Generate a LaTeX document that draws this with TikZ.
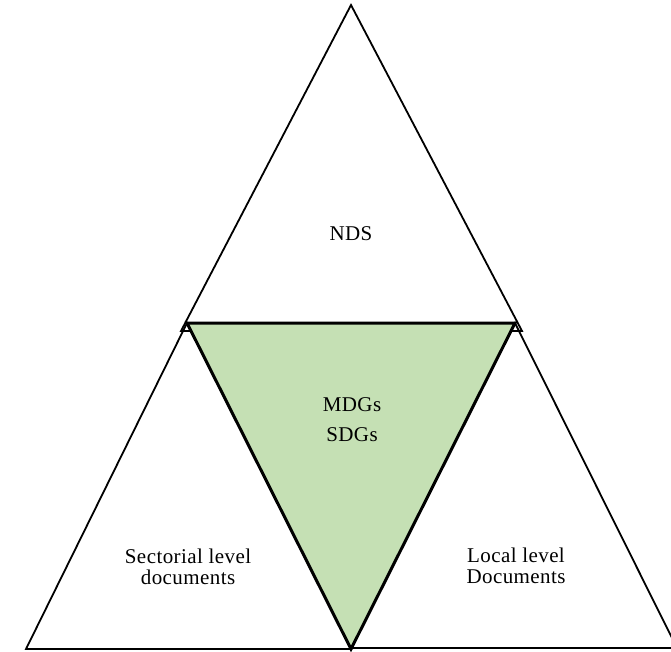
\documentclass[tikz,border=0pt]{standalone}
\usepackage{fontspec}
\setmainfont[LetterSpace=2]{Liberation Serif}
\usetikzlibrary{positioning,calc}
\definecolor{sdggreen}{RGB}{197,224,180}

\begin{document}
\begin{tikzpicture}[x=1pt,y=-1pt,line width=1.8pt,
	txt/.style={font=\fontsize{21}{21.5}\selectfont,align=center,inner sep=0pt}]
		\useasboundingbox (0,0) rectangle (671,651);
		\clip (0,0) rectangle (671,651);
		\def\yb{649}
		\def\ym{323}
		%corners
		\coordinate (T) at (351,5);
		\coordinate (L) at (187,\ym);
		\coordinate (R) at (515,\ym);
		\coordinate (B) at (351,\yb);
		
		%outer triangles
		\draw[line join=miter] (T) -- (522,331) -- (181,331) -- cycle;
		\draw[line join=miter] (L) -- (B) -- (26,\yb) -- cycle;
		\draw[line join=miter] (R) -- (677,\yb-1) -- (351,\yb-1) -- cycle;
		%inner triangle
		\draw[line width=3pt,fill=sdggreen,line join=miter] (L) -- (R) -- (B) -- cycle;
		
		\node[txt] (nds) at (351,234) {NDS};
		\node[txt] (mdg) at (352,405) {MDGs};
		\node[txt] (sdg) at (352,435) {SDGs};
		\node[txt] (sec) at (188,567) {Sectorial level\\documents};
		\node[txt] (loc) at (516,566) {Local level\\Documents};
	\end{tikzpicture}
\end{document}
